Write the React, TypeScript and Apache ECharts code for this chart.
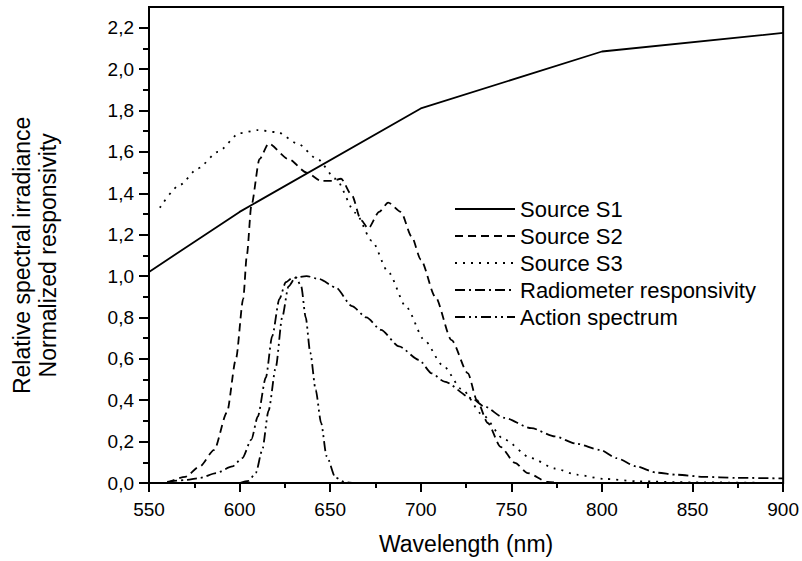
import React, { useEffect, useRef } from "react";
import * as echarts from "echarts";

const s1Wavelengths = [550, 600, 700, 800, 900];
const s1Values = [1.02, 1.31, 1.81, 2.085, 2.175];

const s2Wavelengths = [560, 570, 578, 586, 593, 598, 602, 604, 606.5, 611, 616, 627, 637, 645, 651, 656, 662, 667, 671, 677, 682, 689, 695, 700, 708, 717, 726, 731, 737, 744, 752, 759, 770, 776];
const s2Values = [0.0, 0.03, 0.08, 0.16, 0.34, 0.6, 0.89, 1.1, 1.34, 1.565, 1.64, 1.565, 1.5, 1.46, 1.46, 1.47, 1.39, 1.27, 1.23, 1.31, 1.355, 1.31, 1.19, 1.08, 0.9, 0.69, 0.53, 0.4, 0.29, 0.175, 0.097, 0.048, 0.005, 0.0];

const s3Wavelengths = [556, 567, 577, 588, 600, 610, 621, 632, 643, 653, 664, 673, 682, 692, 702, 712, 723, 734, 746, 761, 774, 786, 801, 820, 850, 900];
const s3Values = [1.33, 1.44, 1.52, 1.6, 1.69, 1.705, 1.695, 1.64, 1.565, 1.47, 1.305, 1.17, 1.02, 0.85, 0.69, 0.57, 0.45, 0.33, 0.21, 0.12, 0.07, 0.04, 0.02, 0.008, 0.003, 0.0];

const radWavelengths = [560, 571, 578, 587, 596, 601.5, 606.5, 610, 614.5, 618, 622, 625.5, 629, 637, 644, 653, 662, 670, 678, 688, 699, 706, 713, 728, 735, 746, 761, 774, 786, 799, 808, 819, 830, 841, 856, 874, 900];
const radValues = [0.005, 0.015, 0.024, 0.048, 0.08, 0.12, 0.21, 0.32, 0.51, 0.71, 0.89, 0.97, 0.99, 1.0, 0.985, 0.945, 0.855, 0.8, 0.74, 0.66, 0.595, 0.53, 0.49, 0.41, 0.37, 0.315, 0.265, 0.225, 0.19, 0.16, 0.12, 0.08, 0.05, 0.04, 0.03, 0.025, 0.022];

const actWavelengths = [600, 605, 609, 612.5, 616, 620, 623.5, 627, 631, 634, 636.5, 639, 642, 645, 648, 653, 658, 662];
const actValues = [0.0, 0.01, 0.05, 0.16, 0.35, 0.56, 0.8, 0.95, 0.995, 0.95, 0.8, 0.63, 0.45, 0.29, 0.13, 0.025, 0.005, 0.0];

const seriesNames = ["Source S1", "Source S2", "Source S3", "Radiometer responsivity", "Action spectrum"];

const FONT = "Liberation Sans, Arial, sans-serif";

function pairs(xs: number[], ys: number[]) {
  return xs.map((x, i) => [x, ys[i]]);
}

export default function App() {
  const ref = useRef<HTMLDivElement>(null);
  useEffect(() => {
    if (!ref.current) return;
    const chart = echarts.init(ref.current, undefined, { renderer: "svg" });
    const lw = 1.8;
    const mk = (name: string, data: number[][], type: any, smooth: number | boolean) => ({
      name,
      type: "line",
      xAxisIndex: 0,
      yAxisIndex: 0,
      data,
      symbol: "none",
      showSymbol: false,
      smooth,
      smoothMonotone: "x",
      lineStyle: { color: "#000", width: lw, type },
      itemStyle: { color: "#000" },
    });
    chart.setOption({
      animation: false,
      backgroundColor: "#fff",
      grid: [
        { left: 149, right: 16, top: 7, bottom: 78, show: true, borderColor: "#000", borderWidth: 2 },
        { left: 149, right: 16, top: 27.7, bottom: 78, show: false },
      ],
      xAxis: [
        {
          type: "value",
          gridIndex: 0,
          min: 550,
          max: 900,
          interval: 50,
          name: "Wavelength (nm)",
          nameLocation: "middle",
          nameGap: 49,
          nameTextStyle: { color: "#000", fontSize: 23, fontFamily: FONT },
          axisLine: { show: true, lineStyle: { color: "#000", width: 2 } },
          axisTick: { show: true, length: 9, lineStyle: { color: "#000", width: 2 } },
          minorTick: { show: true, splitNumber: 2, length: 5, lineStyle: { color: "#000", width: 2 } },
          axisLabel: { color: "#000", fontSize: 19, fontFamily: FONT, margin: 17 },
          splitLine: { show: false },
        },
        { type: "value", gridIndex: 1, min: 550, max: 900, show: false },
      ],
      yAxis: [
        {
          type: "value",
          gridIndex: 0,
          min: 0,
          max: 2.3,
          axisLine: { show: true, lineStyle: { color: "#000", width: 2 } },
          axisTick: { show: false },
          axisLabel: { show: false },
          splitLine: { show: false },
        },
        {
          type: "value",
          gridIndex: 1,
          min: 0,
          max: 2.2,
          interval: 0.2,
          name: "Relative spectral irradiance\nNormalized responsivity",
          nameLocation: "middle",
          nameGap: 88,
          nameTextStyle: { color: "#000", fontSize: 23, fontFamily: FONT, lineHeight: 26 },
          axisLine: { show: false },
          axisTick: { show: true, length: 10, lineStyle: { color: "#000", width: 2 } },
          minorTick: { show: true, splitNumber: 2, length: 6, lineStyle: { color: "#000", width: 2 } },
          axisLabel: {
            color: "#000",
            fontSize: 19,
            fontFamily: FONT,
            margin: 15,
            formatter: (v: number) => v.toFixed(1).replace(".", ","),
          },
          splitLine: { show: false },
        },
      ],
      legend: {
        show: true,
        orient: "vertical",
        left: 449,
        top: 193,
        itemWidth: 60,
        itemHeight: 14,
        itemGap: 5,
        data: seriesNames,
        itemStyle: { opacity: 0, borderWidth: 0 },
        textStyle: { color: "#000", fontSize: 22, fontFamily: FONT },
      },
      series: [
        mk(seriesNames[0], pairs(s1Wavelengths, s1Values), "solid", false),
        mk(seriesNames[1], pairs(s2Wavelengths, s2Values), [8, 5], 0.25),
        mk(seriesNames[2], pairs(s3Wavelengths, s3Values), [2, 6], 0.25),
        mk(seriesNames[3], pairs(radWavelengths, radValues), [10, 4, 2, 4], 0.25),
        mk(seriesNames[4], pairs(actWavelengths, actValues), [10, 4, 2, 4, 2, 4], 0.25),
      ],
    });
    return () => chart.dispose();
  }, []);
  return <div ref={ref} style={{ width: 802, height: 561, position: "absolute", left: 0, top: 0 }} />;
}
